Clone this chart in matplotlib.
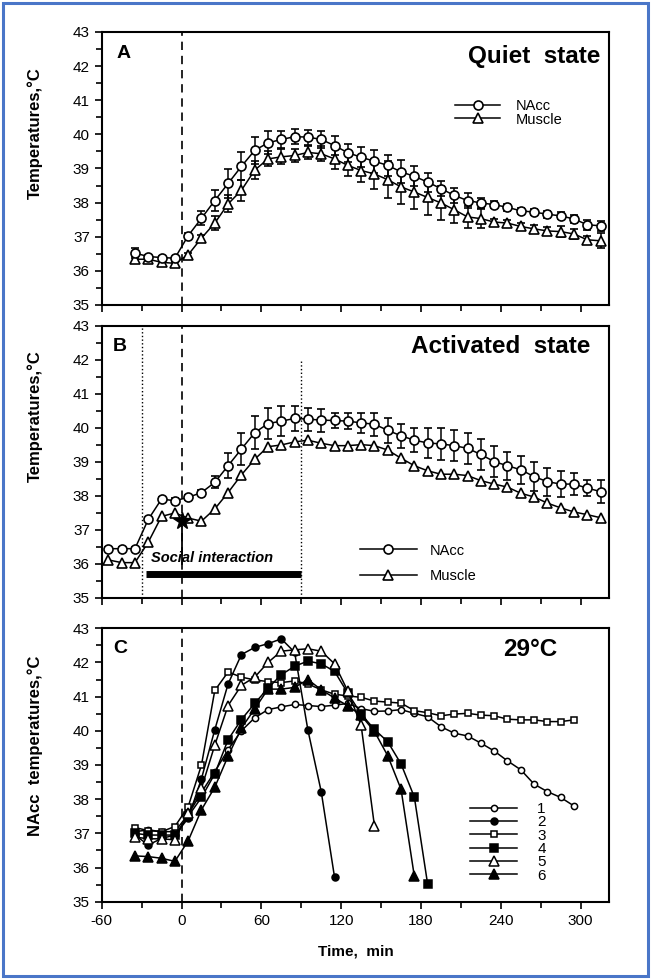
import matplotlib.pyplot as plt
from matplotlib.patches import Rectangle
from matplotlib.lines import Line2D
from matplotlib.ticker import MultipleLocator

plt.rcParams['font.family'] = ['Liberation Sans', 'DejaVu Sans']
plt.rcParams['axes.unicode_minus'] = False

# ---- panel A : quiet state ----
t_a = [-35, -25, -15, -5, 5, 15, 25, 35, 45, 55, 65, 75, 85, 95, 105, 115, 125, 135,
       145, 155, 165, 175, 185, 195, 205, 215, 225, 235, 245, 255, 265, 275, 285, 295, 305, 315]
nacc_a = [36.52, 36.42, 36.39, 36.37, 37.03, 37.54, 38.06, 38.56, 39.06, 39.53, 39.75, 39.85,
          39.93, 39.92, 39.85, 39.67, 39.46, 39.33, 39.21, 39.09, 38.90, 38.77, 38.60, 38.41,
          38.21, 38.06, 37.99, 37.94, 37.86, 37.76, 37.72, 37.66, 37.61, 37.52, 37.35, 37.32]
nacc_a_err = [0.15, 0.05, 0.05, 0.05, 0.08, 0.2, 0.32, 0.43, 0.41, 0.40, 0.34, 0.26, 0.22, 0.22,
              0.25, 0.29, 0.27, 0.29, 0.34, 0.31, 0.34, 0.29, 0.28, 0.22, 0.23, 0.22, 0.15, 0.1,
              0.1, 0.08, 0.08, 0.1, 0.1, 0.13, 0.15, 0.15]
musc_a = [36.34, 36.34, 36.25, 36.22, 36.47, 36.96, 37.40, 37.96, 38.36, 38.95, 39.28, 39.34,
          39.38, 39.47, 39.43, 39.28, 39.09, 38.94, 38.84, 38.67, 38.46, 38.31, 38.15, 37.99,
          37.79, 37.58, 37.53, 37.43, 37.40, 37.30, 37.23, 37.17, 37.15, 37.08, 36.91, 36.88]
musc_a_err = [0.1, 0.05, 0.05, 0.05, 0.05, 0.1, 0.2, 0.25, 0.31, 0.26, 0.22, 0.22, 0.2, 0.2,
              0.22, 0.29, 0.32, 0.34, 0.45, 0.55, 0.5, 0.5, 0.52, 0.5, 0.39, 0.32, 0.27, 0.1,
              0.1, 0.1, 0.12, 0.12, 0.15, 0.15, 0.1, 0.22]

# ---- panel B : activated state ----
t_b = [-55, -45] + t_a
nacc_b = [36.45, 36.45, 36.45, 37.31, 37.91, 37.86, 37.96, 38.10, 38.40, 38.89, 39.38, 39.86,
          40.13, 40.20, 40.28, 40.26, 40.23, 40.22, 40.20, 40.15, 40.11, 39.93, 39.77, 39.64,
          39.56, 39.53, 39.48, 39.40, 39.22, 39.01, 38.89, 38.77, 38.57, 38.42, 38.35, 38.35,
          38.23, 38.13]
nacc_b_err = [0.05, 0.05, 0.05, 0.05, 0.05, 0.08, 0.08, 0.08, 0.18, 0.36, 0.46, 0.49, 0.46,
              0.44, 0.36, 0.34, 0.34, 0.23, 0.24, 0.3, 0.34, 0.37, 0.36, 0.36, 0.44, 0.46, 0.46,
              0.46, 0.47, 0.46, 0.41, 0.42, 0.42, 0.41, 0.37, 0.32, 0.24, 0.34]
musc_b = [36.12, 36.04, 36.04, 36.64, 37.40, 37.50, 37.35, 37.26, 37.62, 38.10, 38.62, 39.08,
          39.45, 39.50, 39.59, 39.64, 39.55, 39.48, 39.48, 39.51, 39.48, 39.35, 39.11, 38.89,
          38.74, 38.64, 38.64, 38.60, 38.45, 38.35, 38.26, 38.08, 37.97, 37.79, 37.65, 37.53,
          37.45, 37.36]

# ---- panel C : individual NAcc records at 29 C ----
t_c = t_a[:-2]
rat1 = [37.05, 37.1, 37.05, 37.05, 37.55, 38.2, 38.8, 39.45, 40.0, 40.38, 40.62, 40.70, 40.77,
        40.74, 40.71, 40.75, 40.80, 40.65, 40.57, 40.58, 40.62, 40.51, 40.41, 40.12, 39.93,
        39.85, 39.64, 39.41, 39.12, 38.86, 38.44, 38.22, 38.05, 37.80]
rat2 = [36.95, 36.66, 36.85, 36.95, 37.44, 38.6, 40.03, 41.37, 42.23, 42.44, 42.55, 42.69,
        42.3, 40.02, 38.22, 35.72]
rat3 = [37.17, 37.08, 37.05, 37.2, 37.78, 39.0, 41.18, 41.72, 41.57, 41.49, 41.44, 41.41,
        41.46, 41.37, 41.2, 41.07, 41.02, 40.98, 40.87, 40.84, 40.81, 40.59, 40.53, 40.44,
        40.49, 40.51, 40.46, 40.44, 40.34, 40.32, 40.32, 40.27, 40.27, 40.32]
rat4 = [37.0, 36.95, 36.95, 36.95, 37.5, 38.05, 38.74, 39.74, 40.33, 40.8, 41.25, 41.64, 41.89,
        42.04, 41.96, 41.74, 41.1, 40.49, 40.04, 39.68, 39.03, 38.06, 35.51]
rat5 = [36.89, 36.84, 36.84, 36.81, 37.59, 38.32, 39.58, 40.74, 41.33, 41.57, 42.0, 42.33,
        42.37, 42.40, 42.33, 41.96, 41.16, 40.16, 37.22]
rat6 = [36.34, 36.32, 36.27, 36.18, 36.78, 37.69, 38.35, 39.26, 40.08, 40.64, 41.22, 41.22,
        41.27, 41.50, 41.20, 40.96, 40.73, 40.45, 39.98, 39.27, 38.29, 35.74]
rat_labels = ['1', '2', '3', '4', '5', '6']

fig = plt.figure(figsize=(6.51, 9.80), dpi=100)
fig.patches.append(Rectangle((0.005, 0.004), 0.99, 0.993, transform=fig.transFigure,
                             fill=False, edgecolor='#4a76c8', lw=2.2))

def setup(ax, xlabels):
    ax.set_xlim(-60, 321.5)
    ax.set_ylim(35, 43)
    ax.xaxis.set_major_locator(MultipleLocator(60))
    ax.xaxis.set_minor_locator(MultipleLocator(30))
    ax.yaxis.set_major_locator(MultipleLocator(1))
    ax.yaxis.set_minor_locator(MultipleLocator(0.5))
    ax.tick_params(which='both', direction='out', width=1.2, labelsize=11)
    ax.tick_params(which='major', length=5)
    ax.tick_params(which='minor', length=4)
    if not xlabels:
        ax.tick_params(axis='x', labelbottom=False)
    for s in ax.spines.values():
        s.set_linewidth(1.5)
    ax.axvline(0, color='k', ls=(0, (5, 3.5)), lw=1.2, zorder=1)

left, width = 0.1562, 0.7797
axA = fig.add_axes([left, 0.6888, width, 0.2786])
axB = fig.add_axes([left, 0.3898, width, 0.2776])
axC = fig.add_axes([left, 0.0799, width, 0.2790])
for ax in (axA, axB):
    setup(ax, False)
setup(axC, True)

lab = dict(fontsize=12, fontweight='bold', rotation=90, ha='center', va='center')
tit = dict(fontsize=17.5, fontweight='bold', ha='right', va='baseline')
let = dict(fontsize=14, fontweight='bold', ha='left', va='baseline')
mk = dict(color='k', lw=1.1, mfc='white', mec='k', mew=1.2, capsize=3, elinewidth=1.1,
          capthick=1.1)
h_nacc = Line2D([], [], color='k', lw=1.1, marker='o', ms=6.5, mfc='white', mew=1.2)
h_musc = Line2D([], [], color='k', lw=1.1, marker='^', ms=6.5, mfc='white', mew=1.2)

# A
axA.errorbar(t_a, musc_a, yerr=musc_a_err, marker='^', ms=6.5, **mk)
axA.errorbar(t_a, nacc_a, yerr=nacc_a_err, marker='o', ms=6.5, **mk)
axA.legend([h_nacc, h_musc], ['NAcc', 'Muscle'], loc='upper left',
           bbox_to_anchor=(0.696, 0.755), frameon=False, fontsize=10.5, handlelength=3.1,
           handletextpad=1.1, labelspacing=-0.02, borderaxespad=0, borderpad=0)
axA.text(0.03, 0.906, 'A', transform=axA.transAxes, **let)
axA.text(0.982, 0.885, 'Quiet  state', transform=axA.transAxes, **tit)
axA.text(-0.131, 0.63, 'Temperatures,°C', transform=axA.transAxes, **lab)

# B
axB.axvline(-30, color='k', ls=':', lw=1.0, zorder=1)
axB.plot([90, 90], [35, 42], color='k', ls=':', lw=1.0, zorder=1)
axB.plot(t_b, musc_b, marker='^', ms=6.5, color='k', lw=1.1, mfc='white', mew=1.2)
axB.errorbar(t_b, nacc_b, yerr=nacc_b_err, marker='o', ms=6.5, **mk)
axB.plot([-27, 90], [35.7, 35.7], color='k', lw=5, solid_capstyle='butt')
axB.text(-23, 36.05, 'Social interaction', fontsize=10.5, fontweight='bold', style='italic')
axB.plot([0, 0], [36.0, 37.1], color='k', lw=1.3, zorder=4)
axB.plot(0, 37.25, marker='*', ms=13, color='k', zorder=5)
axB.legend([h_nacc, h_musc], ['NAcc', 'Muscle'], loc='upper left',
           bbox_to_anchor=(0.509, 0.2), frameon=False, fontsize=10.5, handlelength=3.9,
           handletextpad=0.9, labelspacing=0.8, borderaxespad=0, borderpad=0)
axB.text(0.022, 0.909, 'B', transform=axB.transAxes, **let)
axB.text(0.962, 0.90, 'Activated  state', transform=axB.transAxes, **tit)
axB.text(-0.131, 0.67, 'Temperatures,°C', transform=axB.transAxes, **lab)

# C
styles = [('o', 4.5, 'white'), ('o', 5, 'k'), ('s', 5, 'white'),
          ('s', 5.5, 'k'), ('^', 7, 'white'), ('^', 7.5, 'k')]
for vals, (m, s, fc), name in zip([rat1, rat2, rat3, rat4, rat5, rat6], styles, rat_labels):
    axC.plot(t_c[:len(vals)], vals, marker=m, ms=s, mfc=fc, mec='k', mew=1.1,
             color='k', lw=1.1, label=name)
axC.legend(loc='upper left', bbox_to_anchor=(0.7256, 0.365), frameon=False, fontsize=11,
           handlelength=3.1, handletextpad=1.3, labelspacing=-0.04, borderaxespad=0,
           borderpad=0)
axC.text(0.022, 0.909, 'C', transform=axC.transAxes, **let)
axC.text(0.897, 0.899, '29°C', transform=axC.transAxes, **tit)
axC.text(-0.131, 0.57, 'NAcc  temperatures,°C', transform=axC.transAxes, **lab)
axC.set_xlabel('Time,  min', fontsize=11, fontweight='bold', labelpad=12)

fig.savefig('out.png', dpi=100)
